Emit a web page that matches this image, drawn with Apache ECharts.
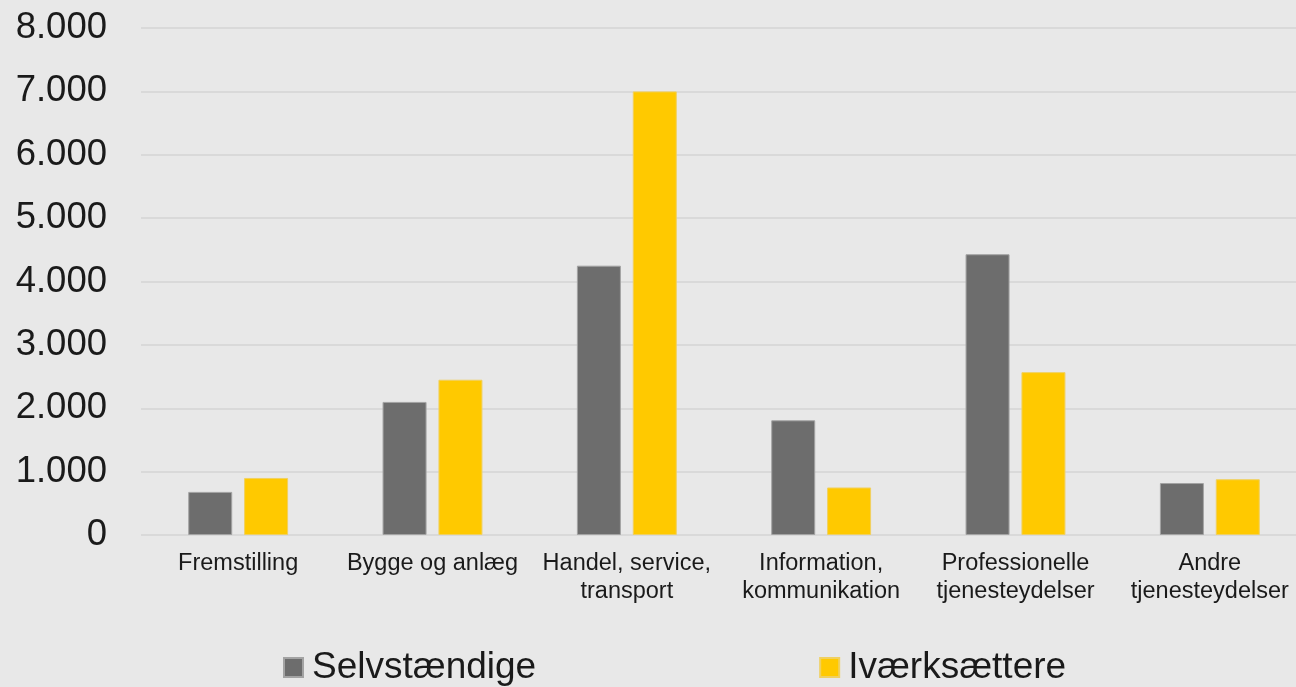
<!DOCTYPE html>
<html>
<head>
<meta charset="utf-8">
<script src="https://cdn.jsdelivr.net/npm/echarts@6/dist/echarts.min.js"></script>
<style>
  html, body { margin: 0; padding: 0; background: #e8e8e8; }
  #chart { width: 1296px; height: 687px; }
</style>
</head>
<body>
<div id="chart"></div>
<script>
const categories = [
  "Fremstilling",
  "Bygge og anlæg",
  "Handel, service,\ntransport",
  "Information,\nkommunikation",
  "Professionelle\ntjenesteydelser",
  "Andre\ntjenesteydelser"
];
const selvstaendige = [680, 2100, 4250, 1810, 4430, 820];
const ivaerksaettere = [900, 2450, 7000, 750, 2570, 880];

const myChart = echarts.init(document.getElementById("chart"));

const fmt = v => String(v).replace(/\B(?=(\d{3})+(?!\d))/g, ".");

const option = {
  backgroundColor: "#e8e8e8",
  animation: false,
  textStyle: { fontFamily: "Liberation Sans, Arial, sans-serif" },
  grid: { left: 141, width: 1166, top: 28, bottom: 152, outerBoundsMode: "none", containLabel: false },
  legend: {
    left: 283,
    top: 649,
    padding: 0,
    itemWidth: 19,
    itemHeight: 19,
    itemGap: 283,
    icon: "rect",
    textStyle: { fontSize: 37, color: "#1a1a1a", padding: [2, 0, 0, 4] },
    data: ["Selvstændige", "Iværksættere"]
  },
  xAxis: {
    type: "category",
    data: categories,
    axisLine: { show: false },
    axisTick: { show: false },
    axisLabel: {
      interval: 0,
      fontSize: 23.5,
      lineHeight: 28,
      color: "#1a1a1a",
      margin: 15
    }
  },
  yAxis: {
    type: "value",
    min: 0,
    max: 8000,
    interval: 1000,
    axisLine: { show: false },
    axisTick: { show: false },
    splitLine: { lineStyle: { color: "#d9d9d9", width: 2 } },
    axisLabel: {
      fontSize: 36.5,
      color: "#1a1a1a",
      margin: 34,
      formatter: fmt
    }
  },
  series: [
    {
      name: "Selvstændige",
      type: "bar",
      data: selvstaendige,
      barWidth: 44,
      barGap: "27%",
      itemStyle: { color: "#6d6d6d", borderColor: "#a3a3a3", borderWidth: 1 }
    },
    {
      name: "Iværksættere",
      type: "bar",
      data: ivaerksaettere,
      barWidth: 44,
      itemStyle: { color: "#ffc900", borderColor: "#f0d060", borderWidth: 1 }
    }
  ]
};

myChart.setOption(option);
</script>
</body>
</html>
